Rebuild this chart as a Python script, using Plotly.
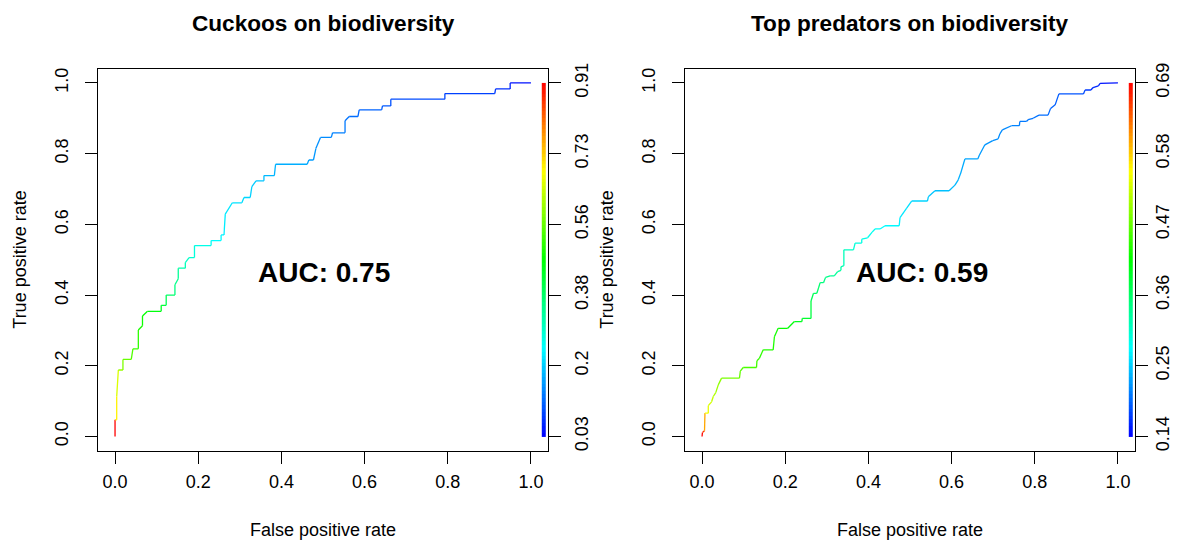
import colorsys
import plotly.graph_objects as go

# ---------------- data ----------------
cuckoo_fpr = [0.000, 0.000, 0.004, 0.004, 0.008, 0.019, 0.019, 0.039, 0.043, 0.056, 0.056, 0.066, 0.066,
              0.078, 0.111, 0.111, 0.123, 0.123, 0.144, 0.144, 0.152, 0.152, 0.169, 0.169, 0.178, 0.191,
              0.191, 0.231, 0.231, 0.255, 0.255, 0.262, 0.265, 0.282, 0.305, 0.310, 0.325, 0.329, 0.339,
              0.358, 0.358, 0.383, 0.386, 0.462, 0.466, 0.477, 0.483, 0.494, 0.520, 0.523, 0.553, 0.553,
              0.563, 0.584, 0.587, 0.641, 0.643, 0.663, 0.663, 0.793, 0.793, 0.913, 0.915, 0.950, 0.950, 1.000]
cuckoo_tpr = [0.000, 0.047, 0.047, 0.113, 0.188, 0.188, 0.218, 0.218, 0.248, 0.248, 0.301, 0.313, 0.341,
              0.354, 0.354, 0.371, 0.371, 0.400, 0.400, 0.429, 0.446, 0.476, 0.476, 0.492, 0.506, 0.506,
              0.540, 0.540, 0.554, 0.554, 0.570, 0.570, 0.629, 0.661, 0.661, 0.676, 0.676, 0.707, 0.723,
              0.723, 0.738, 0.738, 0.770, 0.770, 0.782, 0.782, 0.815, 0.846, 0.846, 0.859, 0.859, 0.893,
              0.905, 0.905, 0.924, 0.924, 0.935, 0.935, 0.954, 0.954, 0.970, 0.970, 0.983, 0.983, 1.000, 1.000]
cuckoo_cutoff = [0.91, 0.72, 0.70, 0.66, 0.60, 0.58, 0.56, 0.54, 0.52, 0.51, 0.49, 0.48, 0.47,
                 0.46, 0.44, 0.42, 0.40, 0.38, 0.36, 0.35, 0.34, 0.32, 0.31, 0.30, 0.29, 0.28,
                 0.27, 0.26, 0.25, 0.245, 0.24, 0.235, 0.23, 0.225, 0.22, 0.215, 0.21, 0.205, 0.20,
                 0.195, 0.19, 0.185, 0.18, 0.17, 0.165, 0.16, 0.155, 0.15, 0.145, 0.14, 0.135, 0.13,
                 0.125, 0.12, 0.115, 0.11, 0.105, 0.10, 0.095, 0.09, 0.085, 0.08, 0.07, 0.06, 0.045, 0.03]

predator_fpr = [0.000, 0.001, 0.006, 0.007, 0.015, 0.015, 0.023, 0.027, 0.033, 0.039,
                0.047, 0.090, 0.092, 0.099, 0.131, 0.132, 0.138, 0.147, 0.171, 0.174,
                0.183, 0.206, 0.222, 0.240, 0.241, 0.262, 0.262, 0.268, 0.276, 0.280,
                0.284, 0.292, 0.297, 0.308, 0.318, 0.326, 0.334, 0.334, 0.341, 0.341,
                0.364, 0.368, 0.384, 0.384, 0.398, 0.409, 0.416, 0.428, 0.440, 0.474,
                0.476, 0.492, 0.504, 0.542, 0.544, 0.560, 0.594, 0.608, 0.616, 0.622,
                0.632, 0.663, 0.667, 0.680, 0.699, 0.712, 0.716, 0.722, 0.744, 0.763,
                0.764, 0.780, 0.784, 0.796, 0.810, 0.832, 0.838, 0.849, 0.858, 0.917,
                0.921, 0.935, 0.940, 0.953, 0.957, 1.000]
predator_tpr = [0.000, 0.011, 0.016, 0.066, 0.066, 0.087, 0.098, 0.113, 0.124, 0.146,
                0.165, 0.165, 0.185, 0.195, 0.195, 0.214, 0.221, 0.245, 0.245, 0.282,
                0.306, 0.306, 0.325, 0.325, 0.334, 0.334, 0.383, 0.405, 0.405, 0.420,
                0.435, 0.435, 0.450, 0.454, 0.454, 0.466, 0.470, 0.480, 0.483, 0.528,
                0.528, 0.547, 0.547, 0.558, 0.562, 0.578, 0.587, 0.587, 0.596, 0.596,
                0.619, 0.646, 0.666, 0.666, 0.678, 0.695, 0.695, 0.711, 0.726, 0.745,
                0.785, 0.785, 0.796, 0.825, 0.837, 0.842, 0.856, 0.867, 0.879, 0.879,
                0.891, 0.891, 0.896, 0.900, 0.909, 0.909, 0.928, 0.938, 0.969, 0.969,
                0.980, 0.980, 0.987, 0.992, 0.999, 1.000]
predator_cutoff = [0.69, 0.66, 0.60, 0.55, 0.54, 0.53, 0.52, 0.51, 0.50, 0.49,
                   0.48, 0.47, 0.46, 0.455, 0.45, 0.445, 0.44, 0.435, 0.43, 0.425,
                   0.42, 0.41, 0.40, 0.395, 0.39, 0.38, 0.37, 0.365, 0.36, 0.355,
                   0.35, 0.345, 0.34, 0.335, 0.332, 0.33, 0.325, 0.32, 0.315, 0.31,
                   0.30, 0.295, 0.292, 0.29, 0.287, 0.285, 0.28, 0.277, 0.275, 0.27,
                   0.265, 0.26, 0.255, 0.25, 0.247, 0.244, 0.241, 0.238, 0.235, 0.232,
                   0.229, 0.226, 0.223, 0.22, 0.217, 0.216, 0.215, 0.214, 0.211, 0.208,
                   0.205, 0.204, 0.203, 0.202, 0.199, 0.196, 0.193, 0.19, 0.185, 0.18,
                   0.17, 0.165, 0.162, 0.16, 0.15, 0.14]

axis_ticks = [0.0, 0.2, 0.4, 0.6, 0.8, 1.0]
axis_ticktext = ["0.0", "0.2", "0.4", "0.6", "0.8", "1.0"]
cuckoo_cut_ticks = ["0.03", "0.2", "0.38", "0.56", "0.73", "0.91"]
predator_cut_ticks = ["0.14", "0.25", "0.36", "0.47", "0.58", "0.69"]
cuckoo_cut_range = [0.03, 0.91]
predator_cut_range = [0.14, 0.69]
titles = ["Cuckoos on biodiversity", "Top predators on biodiversity"]
auc_labels = ["AUC: 0.75", "AUC: 0.59"]

# ---------------- geometry (page pixels; body has an 8px default margin) ----------------
FONT = "Liberation Sans, Arial, sans-serif"
OFF = 8
W, H = 1180 - OFF, 540 - OFF


def px(xp):
    return (xp - OFF) / W


def py(yp):
    return 1 - (yp - OFF) / H


box_left = [(98.4, 547.6), (685.4, 1134.6)]
box_top, box_bottom = 68.8, 450.6
xdom = [[px(a), px(b)] for a, b in box_left]
ydom = [py(box_bottom), py(box_top)]
rng = [-0.04, 1.04]


def rainbow(frac):
    """frac 0 -> blue (low cutoff), 1 -> red (high cutoff), like R rainbow(start=0,end=4/6)."""
    h = (1 - frac) * 4 / 6
    r, g, b = colorsys.hsv_to_rgb(h, 1, 1)
    return "rgb(%d,%d,%d)" % (round(r * 255), round(g * 255), round(b * 255))


rainbow_scale = [[i / 20, rainbow(i / 20)] for i in range(21)]

fig = go.Figure()

panels = [
    (cuckoo_fpr, cuckoo_tpr, cuckoo_cutoff, cuckoo_cut_range, "x", "y"),
    (predator_fpr, predator_tpr, predator_cutoff, predator_cut_range, "x2", "y3"),
]

for fpr, tpr, cut, (cmin, cmax), xa, ya in panels:
    for i in range(len(fpr) - 1):
        frac = (cut[i] - cmin) / (cmax - cmin)
        fig.add_trace(go.Scatter(
            x=[fpr[i], fpr[i + 1]], y=[tpr[i], tpr[i + 1]], mode="lines",
            line=dict(color=rainbow(frac), width=1.3), xaxis=xa, yaxis=ya,
            showlegend=False, hoverinfo="skip"))
    n = 100
    fig.add_trace(go.Heatmap(
        x=[1.026, 1.036], y=[i / n for i in range(n + 1)],
        z=[[cmin + (i + 0.5) / n * (cmax - cmin)] for i in range(n)],
        zmin=cmin, zmax=cmax, colorscale=rainbow_scale, showscale=False,
        xaxis=xa, yaxis=ya, hoverinfo="skip"))

tickfont = dict(family=FONT, size=18, color="black")
common = dict(range=rng, showgrid=False, zeroline=False, ticks="outside", ticklen=12,
              tickcolor="black", tickwidth=1, tickfont=tickfont, automargin=False)
boxline = dict(showline=True, mirror=True, linecolor="black", linewidth=1)

layout = dict(
    template="none",
    width=W, height=H, margin=dict(l=0, r=0, t=0, b=0, pad=0), autosize=False,
    paper_bgcolor="white", plot_bgcolor="white", showlegend=False,
    xaxis=dict(domain=xdom[0], anchor="y", tickvals=axis_ticks, ticktext=axis_ticktext,
               ticklabelstandoff=3, **boxline, **common),
    yaxis=dict(domain=ydom, anchor="x", tickvals=axis_ticks, ticktext=axis_ticktext, tickangle=-90,
               ticklabelstandoff=10, **boxline, **common),
    yaxis2=dict(domain=ydom, anchor="x", overlaying="y", side="right", tickvals=axis_ticks,
                ticktext=cuckoo_cut_ticks, tickangle=-90, showline=False, ticklabelstandoff=6, **common),
    xaxis2=dict(domain=xdom[1], anchor="y3", tickvals=axis_ticks, ticktext=axis_ticktext,
                ticklabelstandoff=3, **boxline, **common),
    yaxis3=dict(domain=ydom, anchor="x2", tickvals=axis_ticks, ticktext=axis_ticktext, tickangle=-90,
                ticklabelstandoff=10, **boxline, **common),
    yaxis4=dict(domain=ydom, anchor="x2", overlaying="y3", side="right", tickvals=axis_ticks,
                ticktext=predator_cut_ticks, tickangle=-90, showline=False, ticklabelstandoff=0, **common),
)
fig.update_layout(**layout)

# empty traces so the right-hand (cutoff) axes render
fig.add_trace(go.Scatter(x=[None], y=[None], xaxis="x", yaxis="y2", showlegend=False))
fig.add_trace(go.Scatter(x=[None], y=[None], xaxis="x2", yaxis="y4", showlegend=False))

annots = []
ylab_x = [20, 607]
auc_pos = [(0.502, 0.465, "x", "y"), (0.528, 0.465, "x2", "y3")]
for k in range(2):
    cx = (xdom[k][0] + xdom[k][1]) / 2
    annots.append(dict(text="<b>%s</b>" % titles[k], x=cx, y=py(23), xref="paper", yref="paper",
                       showarrow=False, xanchor="center", yanchor="middle",
                       font=dict(family=FONT, size=22.6, color="black")))
    annots.append(dict(text="False positive rate", x=cx, y=py(530), xref="paper", yref="paper",
                       showarrow=False, xanchor="center", yanchor="middle",
                       font=dict(family=FONT, size=18, color="black")))
    annots.append(dict(text="True positive rate", x=px(ylab_x[k]), y=py((box_top + box_bottom) / 2),
                       xref="paper", yref="paper", textangle=-90, showarrow=False,
                       xanchor="center", yanchor="middle",
                       font=dict(family=FONT, size=18, color="black")))
    ax, ay, xr, yr = auc_pos[k]
    annots.append(dict(text="<b>%s</b>" % auc_labels[k], x=ax, y=ay, xref=xr, yref=yr,
                       showarrow=False, xanchor="center", yanchor="middle",
                       font=dict(family=FONT, size=28, color="black")))
fig.update_layout(annotations=annots)

fig.write_html("out.html")
